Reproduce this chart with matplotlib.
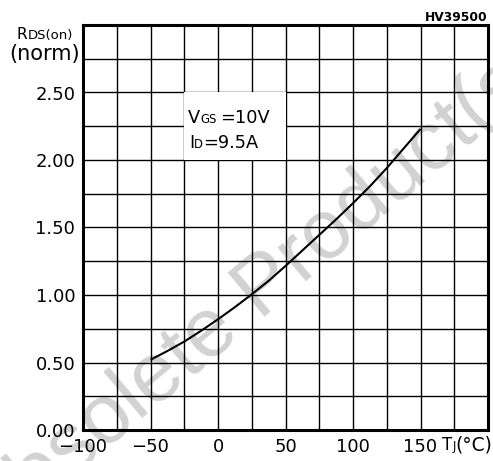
"""
Normalized on-resistance vs junction temperature (datasheet style).
"""
import matplotlib
matplotlib.use("Agg")
import matplotlib.pyplot as plt
import matplotlib.transforms as mtransforms
from matplotlib.patches import Rectangle
import numpy as np

# ---- data ----
tj = [-50, -37.5, -25, -12.5, 0, 12.5, 25, 37.5, 50, 62.5, 75,
      87.5, 100, 112.5, 125, 137.5, 150]
rds_norm = [0.52, 0.585, 0.655, 0.735, 0.82, 0.91, 1.005, 1.105, 1.215, 1.33,
            1.445, 1.56, 1.68, 1.805, 1.94, 2.085, 2.23]

x_ticks = [-100, -50, 0, 50, 100, 150]
y_ticks = [0.0, 0.5, 1.0, 1.5, 2.0, 2.5]

plt.rcParams["font.family"] = ["DejaVu Sans"]

fig = plt.figure(figsize=(4.93, 4.61), dpi=100)
ax = fig.add_axes([83 / 493, 31 / 461, 405 / 493, 405 / 461])
ax.patch.set_visible(False)

ax.set_xlim(-100, 200)
ax.set_ylim(0, 3.0)
ax.set_xticks(x_ticks)
ax.set_xticklabels([str(v).replace("-", "\u2212") for v in x_ticks], fontsize=13)
ax.set_yticks(y_ticks)
ax.set_yticklabels([f"{v:.2f}" for v in y_ticks], fontsize=13)
ax.set_xticks(np.arange(-100, 201, 25), minor=True)
ax.set_yticks(np.arange(0, 3.01, 0.25), minor=True)
ax.tick_params(which="both", length=0)
ax.tick_params(axis="x", pad=6)
ax.tick_params(axis="y", pad=5.5)
ax.grid(which="both", color="black", linewidth=1.0)
ax.set_axisbelow(True)
for sp in ax.spines.values():
    sp.set_linewidth(2.2)

# white patch behind the condition text
ax.add_patch(Rectangle((-25, 2.0), 75, 0.5, facecolor="white",
                       edgecolor="none", zorder=1.5))

ax.plot(tj, rds_norm, color="black", linewidth=1.5, zorder=3,
        solid_capstyle="butt")

# watermark (behind the grid)
fig.text(256 / 493, 1 - 295 / 461, "Obsolete Product(s)", fontsize=60,
         family="Liberation Sans", color="#d2d2d2", rotation=40,
         rotation_mode="anchor", ha="center", va="center", zorder=-1)

fig.canvas.draw()
renderer = fig.canvas.get_renderer()
ident = mtransforms.IdentityTransform()
H = 461


def run_text(px, py, parts, **kw):
    """Place text pieces one after another on a common baseline (pixels)."""
    for s, size in parts:
        t = fig.text(px, py, s, fontsize=size, transform=ident,
                     ha="left", va="baseline", zorder=5, **kw)
        px = t.get_window_extent(renderer).x1
    return px


# test conditions
x_end = run_text(188, H - 123, [("V", 12.8), ("GS", 8.4)])
run_text(x_end + 4, H - 123, [("=10V", 12.8)])
run_text(189, H - 148, [("I", 12.8), ("D", 8.4), ("=9.5A", 12.8)])

# y axis label
run_text(17, H - 39, [("R", 11), ("DS(on)", 9.5)])
fig.text(80, H - 60, "(norm)", fontsize=15, transform=ident,
         ha="right", va="baseline")

# x axis label
run_text(442, H - 450, [("T", 12), ("J", 8.5), ("(\u00b0C)", 13.5)])

# drawing number
fig.text(488, H - 21, "HV39500", fontsize=8.8, fontweight="bold",
         transform=ident, ha="right", va="baseline")

fig.savefig("out.png", dpi=100)
